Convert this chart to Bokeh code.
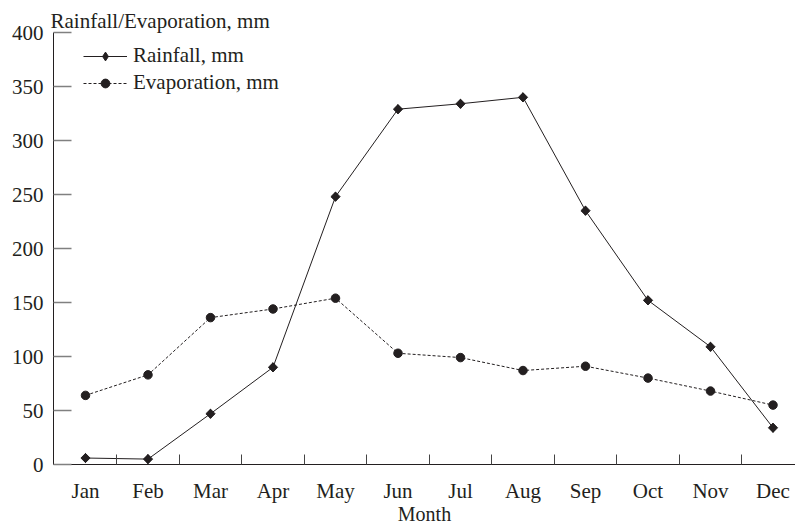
from bokeh.plotting import figure
from bokeh.models import Range1d, FixedTicker, Legend, LegendItem
from bokeh.embed import file_html
from bokeh.resources import INLINE

months = ["Jan", "Feb", "Mar", "Apr", "May", "Jun", "Jul", "Aug", "Sep", "Oct", "Nov", "Dec"]
rainfall = [6, 5, 47, 90, 248, 329, 334, 340, 235, 152, 109, 34]
evaporation = [64, 83, 136, 144, 154, 103, 99, 87, 91, 80, 68, 55]
y_ticks = [0, 50, 100, 150, 200, 250, 300, 350, 400]

FONT = "Liberation Serif"
INK = "#231f20"

xs = list(range(1, len(months) + 1))

p = figure(width=795, height=527, output_backend="svg", toolbar_location=None,
           x_range=Range1d(0.488, 12.36), y_range=Range1d(0, 400),
           min_border_left=53, min_border_right=0, min_border_top=32, min_border_bottom=61)
p.outline_line_color = None
p.xgrid.visible = False
p.ygrid.visible = False

p.title.text = "Rainfall/Evaporation, mm"
p.title.align = "left"
p.title.offset = -3
p.title.standoff = 0
p.title.text_font = FONT
p.title.text_font_size = "21px"
p.title.text_font_style = "normal"
p.title.text_color = INK

r1 = p.line(xs, rainfall, line_color=INK, line_width=1)
m1_leg = p.scatter(xs, rainfall, marker="diamond", size=9, fill_color=INK, line_color=INK)
m1 = p.scatter(xs, rainfall, marker="square", angle=0.785398, size=6.5, fill_color=INK, line_color=INK)
r2 = p.line(xs, evaporation, line_color=INK, line_width=1, line_dash="3 2")
m2 = p.scatter(xs, evaporation, marker="circle", size=8.5, fill_color=INK, line_color=INK)

legend = Legend(items=[LegendItem(label="Rainfall, mm", renderers=[r1, m1_leg]),
                       LegendItem(label="Evaporation, mm", renderers=[r2, m2])],
                location=(30, 369))
legend.border_line_color = None
legend.background_fill_alpha = 0
legend.padding = 0
legend.margin = 0
legend.glyph_width = 44
legend.glyph_height = 22
legend.label_height = 20
legend.spacing = 2
legend.label_standoff = 6
legend.label_text_font = FONT
legend.label_text_font_size = "21px"
legend.label_text_color = INK
p.add_layout(legend, "center")

xa = p.xaxis[0]
xa.ticker = FixedTicker(ticks=xs, minor_ticks=[x + 0.5 for x in xs[:-1]])
xa.major_label_overrides = {x: m for x, m in zip(xs, months)}
xa.major_tick_in = 0
xa.major_tick_out = 0
xa.minor_tick_in = 10
xa.minor_tick_out = 0
xa.minor_tick_line_color = "#444444"
xa.axis_line_color = INK
xa.major_label_standoff = 14
xa.major_label_text_font = FONT
xa.major_label_text_font_size = "21px"
xa.major_label_text_color = INK
xa.axis_label = "Month"
xa.axis_label_standoff = -3
xa.axis_label_text_font = FONT
xa.axis_label_text_font_size = "20px"
xa.axis_label_text_font_style = "normal"
xa.axis_label_text_color = INK

ya = p.yaxis[0]
ya.ticker = FixedTicker(ticks=y_ticks, minor_ticks=[])
ya.major_tick_in = 18
ya.major_tick_out = 0
ya.minor_tick_in = 0
ya.minor_tick_out = 0
ya.major_tick_line_color = "#808080"
ya.major_tick_line_width = 1.6
ya.axis_line_color = INK
ya.major_label_standoff = 10
ya.major_label_text_font = FONT
ya.major_label_text_font_size = "21px"
ya.major_label_text_color = INK

open("out.html", "w").write(file_html(p, INLINE))
